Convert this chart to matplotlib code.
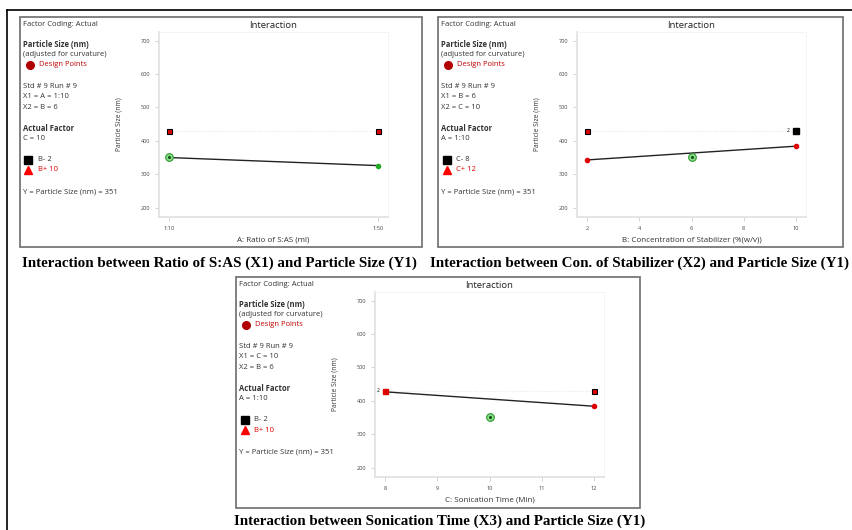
import numpy as np
import matplotlib.pyplot as plt
from matplotlib.patches import Rectangle
from matplotlib.lines import Line2D

W, H = 852, 530

# values
y_ticks = [200, 300, 400, 500, 600, 700]

a_levels = [10, 50]
a_tick_labels = ["1:10", "1:50"]
a_line = [350, 326]
a_square = [430, 430]

b_levels = [2, 10]
b_ticks = [2, 4, 6, 8, 10]
b_line = [343, 384]
b_square = [430, 430]

c_levels = [8, 12]
c_ticks = [8, 9, 10, 11, 12]
c_line = [427, 384]
c_square = [430, 430]

design_y = 351
design_a, design_b, design_c = 10, 6, 10

captions = [
    "Interaction between Ratio of S:AS (X1) and Particle Size (Y1)",
    "Interaction between Con. of Stabilizer (X2) and Particle Size (Y1)",
    "Interaction between Sonication Time (X3) and Particle Size (Y1)",
]

side_texts = [
    ["X1 = A = 1:10", "X2 = B = 6", "C = 10", "B- 2", "B+ 10"],
    ["X1 = B = 6", "X2 = C = 10", "A = 1:10", "C- 8", "C+ 12"],
    ["X1 = C = 10", "X2 = B = 6", "A = 1:10", "B- 2", "B+ 10"],
]

xlabels = ["A: Ratio of S:AS (ml)", "B: Concentration of Stabilizer (%(w/v))",
           "C: Sonication Time (Min)"]

plt.rcParams['font.family'] = ['Open Sans', 'DejaVu Sans']

fig = plt.figure(figsize=(W / 100, H / 100), dpi=100)


def fx(px):
    return px / W


def fy(py):
    return 1 - py / H


# outer frame lines (left and top)
fig.add_artist(Line2D([fx(7), fx(7)], [fy(10), fy(530)], color='black', lw=1.2))
fig.add_artist(Line2D([fx(7), fx(852)], [fy(10), fy(10)], color='black', lw=1.2))

panels = [(20, 17, 422, 247), (438, 17, 843, 247), (236, 277, 640, 508)]
red = '#e00000'
dred = '#c00000'
txtc = '#333333'
fs = 5.5


def draw_panel(i, levels, ticks, tick_labels, line, square):
    x0, y0, x1, y1 = panels[i]
    fig.add_artist(Rectangle((fx(x0), fy(y1)), fx(x1 - x0), (y1 - y0) / H,
                             fill=False, ec='#777777', lw=1.3))
    # left text column
    tx = fx(x0 + 3)
    kw = dict(fontsize=fs, color=txtc, va='center', ha='left')
    t = side_texts[i]
    fig.text(tx, fy(y0 + 7), "Factor Coding: Actual", **kw)
    fig.text(tx, fy(y0 + 27.3), "Particle Size (nm)", fontweight='bold', **kw)
    fig.text(tx, fy(y0 + 37.3), "(adjusted for curvature)", **kw)
    fig.add_artist(Line2D([fx(x0 + 10)], [fy(y0 + 48)], marker='o', ms=5.5,
                          color='#b00000', mec='#b00000'))
    fig.text(fx(x0 + 19), fy(y0 + 48), "Design Points", fontsize=fs,
             color=dred, va='center', ha='left')
    fig.text(tx, fy(y0 + 69.3), "Std # 9 Run # 9", **kw)
    fig.text(tx, fy(y0 + 80), t[0], **kw)
    fig.text(tx, fy(y0 + 90.7), t[1], **kw)
    fig.text(tx, fy(y0 + 111.3), "Actual Factor", fontweight='bold', **kw)
    fig.text(tx, fy(y0 + 121.3), t[2], **kw)
    fig.add_artist(Line2D([fx(x0 + 8.5)], [fy(y0 + 142.7)], marker='s', ms=5.5,
                          color='black'))
    fig.text(fx(x0 + 18), fy(y0 + 142.7), t[3], **kw)
    fig.add_artist(Line2D([fx(x0 + 8.5)], [fy(y0 + 153)], marker='^', ms=6,
                          color='#ff0000'))
    fig.text(fx(x0 + 18), fy(y0 + 153), t[4], fontsize=fs, color=red,
             va='center', ha='left')
    fig.text(tx, fy(y0 + 174.7), "Y = Particle Size (nm) = 351", **kw)

    # plot area
    al, ar, at, ab = x0 + 139, x0 + 368, y0 + 15, y0 + 200
    ax = fig.add_axes([fx(al), fy(ab), fx(ar - al), (ab - at) / H])
    span = levels[1] - levels[0]
    ax.set_xlim(levels[0] - 0.05 * span, levels[1] + 0.05 * span)
    ax.set_ylim(172, 726)
    ax.set_yticks(y_ticks)
    ax.set_xticks(ticks)
    ax.set_xticklabels(tick_labels if tick_labels else [str(v) for v in ticks])
    ax.tick_params(labelsize=4.1, labelcolor='#444444', color='#cccccc',
                   length=3, width=0.6, pad=3.5)
    for s in ['top', 'right']:
        ax.spines[s].set_color('#f2f2f2')
        ax.spines[s].set_linewidth(0.6)
    for s in ['left', 'bottom']:
        ax.spines[s].set_color('#e0e0e0')
        ax.spines[s].set_linewidth(1.2)
    ax.set_title("Interaction", fontsize=6.8, color='#222222', pad=3)
    ax.set_ylabel("Particle Size (nm)", fontsize=4.9, color=txtc)
    ax.yaxis.set_label_coords(-37 / (ar - al), 0.5)
    ax.set_xlabel(xlabels[i], fontsize=5.8, color=txtc, va='center')
    ax.xaxis.set_label_coords(0.5, -23 / (ab - at))

    ax.plot(levels, square, ls=':', color='#e6e6e6', lw=0.8, zorder=1)
    ax.plot(levels, line, color='#222222', lw=1.0, zorder=2)
    return ax


def design_point(ax, x):
    ax.plot(x, design_y, marker='o', ms=5.5, mfc='#8fdc8f', mec='#2a9a2a',
            mew=0.8, zorder=5)
    ax.plot(x, design_y, marker='o', ms=1.2, color='#115511', zorder=6)


# panel A
ax = draw_panel(0, a_levels, a_levels, a_tick_labels, a_line, a_square)
ax.plot(a_levels, a_square, ls='none', marker='s', ms=3.6, mfc=red, mec='black',
        mew=0.8, zorder=4)
ax.plot(a_levels[1], a_line[1], marker='o', ms=3, color='#22aa22', zorder=4)
design_point(ax, design_a)

# panel B
ax = draw_panel(1, b_levels, b_ticks, None, b_line, b_square)
ax.plot(b_levels[0], b_square[0], marker='s', ms=3.6, mfc=red, mec='black',
        mew=0.8, zorder=4)
ax.plot(b_levels[1], b_square[1], marker='s', ms=3.8, color='black', zorder=4)
ax.annotate("2", (b_levels[1], b_square[1]), xytext=(-5.5, 0),
            textcoords='offset points', fontsize=3.5, va='center', ha='center')
ax.plot(b_levels, b_line, ls='none', marker='o', ms=3, color=red, zorder=4)
design_point(ax, design_b)

# panel C
ax = draw_panel(2, c_levels, c_ticks, None, c_line, c_square)
ax.plot(c_levels[0], c_square[0], marker='s', ms=3.6, color=red, zorder=4)
ax.plot(c_levels[1], c_square[1], marker='s', ms=3.6, mfc=red, mec='black',
        mew=0.8, zorder=4)
ax.annotate("2", (c_levels[0], c_square[0]), xytext=(-5.5, 0),
            textcoords='offset points', fontsize=3.5, va='center', ha='center')
ax.plot(c_levels[1], c_line[1], marker='o', ms=3, color=red, zorder=4)
design_point(ax, design_c)

# captions
cap_kw = dict(fontsize=10.8, fontweight='bold', family='Liberation Serif',
              color='black', ha='center', va='center')
fig.text(fx(219), fy(263.5), captions[0], **cap_kw)
fig.text(fx(640), fy(263.5), captions[1], **cap_kw)
fig.text(fx(440), fy(521.5), captions[2], **cap_kw)

fig.savefig("out.png", dpi=100)
